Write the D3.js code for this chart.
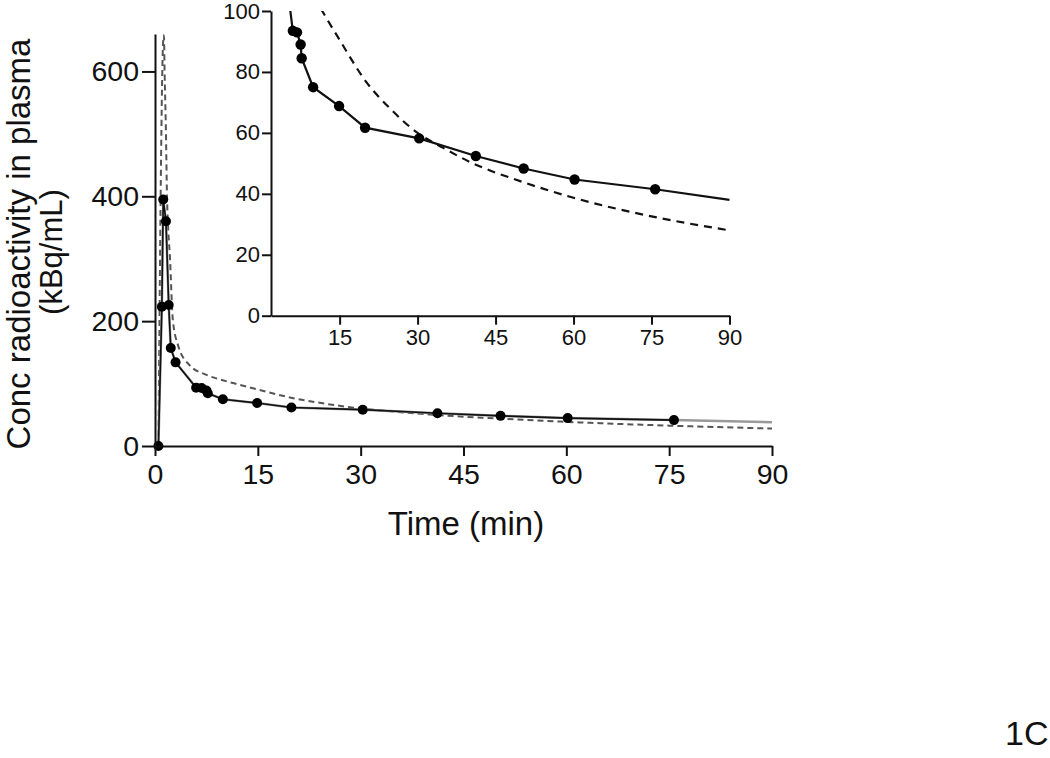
<!DOCTYPE html>
<html>
<head>
<meta charset="utf-8">
<script src="https://cdn.jsdelivr.net/npm/d3@7"></script>
<style>
  html, body { margin: 0; padding: 0; background: #fff; }
  svg { display: block; }
  text { font-family: "Liberation Sans", Arial, Helvetica, sans-serif; fill: #111; }
</style>
</head>
<body>
<svg id="chart" width="1050" height="758"></svg>
<script>
// ---- Data ----
const measuredTimes  = [0.5, 1.0, 1.2, 1.6, 2.0, 2.3, 3.0, 6.0, 6.8, 7.5, 7.7, 9.9, 14.9, 19.9, 30.3, 41.2, 50.4, 60.2, 75.7];
const measuredValues = [0, 223, 395, 360, 226, 157, 134, 93.5, 93, 89, 84.5, 75, 68.8, 61.7, 58.2, 52.4, 48.3, 44.7, 41.5];
// solid line continues past the last sample to the end of the axis
const solidEndTime = 90;
const solidEndValue = 38;

const modelTimes  = [0.5, 1.2, 1.3, 1.4, 1.6, 1.75, 2.2, 2.6, 3.4, 5.0, 7.5, 10, 12, 15, 20, 25, 30, 35, 40, 50, 60, 75, 90];
const modelValues = [0, 650, 658, 600, 500, 400, 298, 202, 160, 130, 114, 105, 99, 90.5, 77, 67.5, 60, 55, 50.5, 44, 38.7, 32.6, 28];

const mainXTicks = [0, 15, 30, 45, 60, 75, 90];
const mainYTicks = [0, 200, 400, 600];
const insetXTicks = [15, 30, 45, 60, 75, 90];
const insetYTicks = [0, 20, 40, 60, 80, 100];

const xLabel = "Time (min)";
const yLabel1 = "Conc radioactivity in plasma";
const yLabel2 = "(kBq/mL)";
const panelLabel = "1C";

// ---- Build ----
const svg = d3.select("#chart");
const measured = measuredTimes.map((t, i) => ({t, v: measuredValues[i]}));
const solidLine = measured.concat([{t: solidEndTime, v: solidEndValue}]);
const model = modelTimes.map((t, i) => ({t, v: modelValues[i]}));

// Main chart
const x = d3.scaleLinear().domain([0, 90]).range([155, 772]);
const y = d3.scaleLinear().domain([0, 660]).range([446, 34]);

const mainG = svg.append("g");
const lineMain = d3.line().x(d => x(d.t)).y(d => y(d.v));
const curveMain = d3.line().x(d => x(d.t)).y(d => y(d.v)).curve(d3.curveMonotoneX);

mainG.append("path").datum(model).attr("d", curveMain)
  .attr("fill", "none").attr("stroke", "#555").attr("stroke-width", 2)
  .attr("stroke-dasharray", "6,4");
mainG.append("path").datum(solidLine).attr("d", lineMain)
  .attr("fill", "none").attr("stroke", "#999").attr("stroke-width", 2.5);
mainG.append("path").datum(measured).attr("d", lineMain)
  .attr("fill", "none").attr("stroke", "#111").attr("stroke-width", 1.6);
mainG.selectAll("circle").data(measured).join("circle")
  .attr("cx", d => x(d.t)).attr("cy", d => y(d.v)).attr("r", 5).attr("fill", "#000");

const xAxis = svg.append("g").attr("transform", "translate(0,446)")
  .call(d3.axisBottom(x).tickValues(mainXTicks).tickSize(10).tickSizeOuter(0).tickPadding(8));
const yAxis = svg.append("g").attr("transform", "translate(155,0)")
  .call(d3.axisLeft(y).tickValues(mainYTicks).tickSize(13).tickSizeOuter(0).tickPadding(3));
[xAxis, yAxis].forEach(a => {
  a.selectAll("path, line").attr("stroke", "#111").attr("stroke-width", 2);
  a.selectAll("text").attr("font-size", 28.5).attr("fill", "#111")
    .attr("font-family", "'Liberation Sans', Arial, sans-serif");
});

svg.append("text").attr("x", 466).attr("y", 535).attr("text-anchor", "middle")
  .attr("font-size", 33).text(xLabel);
svg.append("text").attr("transform", "translate(30,244) rotate(-90)")
  .attr("text-anchor", "middle").attr("font-size", 33).text(yLabel1);
svg.append("text").attr("transform", "translate(62,252) rotate(-90)")
  .attr("text-anchor", "middle").attr("font-size", 31).text(yLabel2);

// Inset
const xi = d3.scaleLinear().domain([1.8, 90]).range([271, 729.5]);
const yi = d3.scaleLinear().domain([0, 100]).range([315.7, 11]);

svg.append("clipPath").attr("id", "insetClip").append("rect")
  .attr("x", 271).attr("y", 11).attr("width", 470).attr("height", 305);

const insetG = svg.append("g").attr("clip-path", "url(#insetClip)");
const lineInset = d3.line().x(d => xi(d.t)).y(d => yi(d.v));
const curveInset = d3.line().x(d => xi(d.t)).y(d => yi(d.v)).curve(d3.curveMonotoneX);
insetG.append("path").datum(model).attr("d", curveInset)
  .attr("fill", "none").attr("stroke", "#111").attr("stroke-width", 2.2)
  .attr("stroke-dasharray", "8,6");
insetG.append("path").datum(solidLine).attr("d", lineInset)
  .attr("fill", "none").attr("stroke", "#111").attr("stroke-width", 2.2);
insetG.selectAll("circle").data(measured).join("circle")
  .attr("cx", d => xi(d.t)).attr("cy", d => yi(d.v)).attr("r", 5.2).attr("fill", "#000");

const xiAxis = svg.append("g").attr("transform", "translate(0,315.7)")
  .call(d3.axisBottom(xi).tickValues(insetXTicks).tickSize(9).tickSizeOuter(0).tickPadding(5));
const yiAxis = svg.append("g").attr("transform", "translate(271,0)")
  .call(d3.axisLeft(yi).tickValues(insetYTicks).tickSize(9).tickSizeOuter(0).tickPadding(2));
[xiAxis, yiAxis].forEach(a => {
  a.selectAll("path, line").attr("stroke", "#111").attr("stroke-width", 2);
  a.selectAll("text").attr("font-size", 22).attr("fill", "#111")
    .attr("font-family", "'Liberation Sans', Arial, sans-serif");
});

svg.append("text").attr("x", 1005).attr("y", 745)
  .attr("font-family", "'Open Sans', 'Noto Sans', sans-serif")
  .attr("font-size", 34).text(panelLabel);
</script>
</body>
</html>
